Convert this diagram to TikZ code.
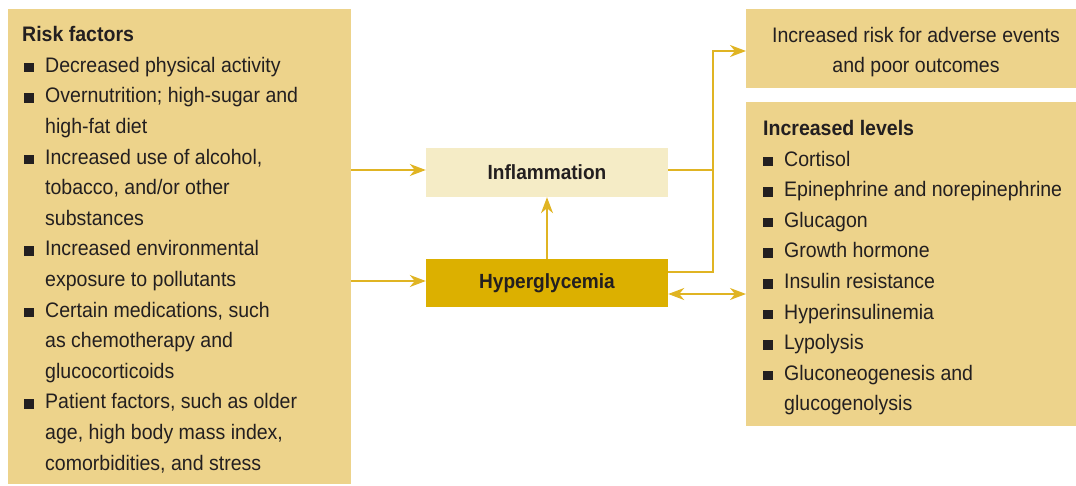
\documentclass[tikz,border=0pt]{standalone}
\usepackage{fontspec}
\setmainfont{Liberation Sans}[FakeStretch=0.93]
\usetikzlibrary{arrows.meta}
\definecolor{boxfill}{HTML}{EDD38B}
\definecolor{linegold}{HTML}{E0B423}
\definecolor{hyperfill}{HTML}{DCB000}
\definecolor{inflfill}{HTML}{F5ECC6}
\definecolor{ink}{HTML}{231F20}
\newcommand{\blt}{\makebox[21pt][l]{\rule{9.5pt}{9.5pt}}}
\tikzset{
  panel/.style={fill=boxfill, draw=none},
  txt/.style={inner sep=0pt, anchor=base west, text=ink, font=\fontsize{21}{25}\selectfont},
  ctxt/.style={inner sep=0pt, anchor=base, text=ink, font=\fontsize{21}{25}\selectfont},
  lbl/.style={inner sep=0pt, text=ink, font=\fontsize{20.5}{24}\selectfont\bfseries},
  conn/.style={draw=linegold, line width=1.5pt},
  arr/.style={conn, -{Stealth[length=16pt,width=12pt,inset=5pt]}},
  darr/.style={conn, {Stealth[length=16pt,width=12pt,inset=5pt]}-{Stealth[length=16pt,width=12pt,inset=5pt]}}
}
\begin{document}
\begin{tikzpicture}[x=1pt,y=-1pt]
\useasboundingbox (0,0) rectangle (1076,485);
% panels
\path[panel] (8,9) rectangle (351,484);
\path[panel] (746,9) rectangle (1076,88);
\path[panel] (746,102) rectangle (1076,426);
\node[fill=inflfill, minimum width=242pt, minimum height=49pt, inner sep=0pt] (infl) at (547,172.5) {};
\node[fill=hyperfill, minimum width=242pt, minimum height=48pt, inner sep=0pt] (hyper) at (547,283) {};
\node[lbl] (inflt) at (547,172.5) {Inflammation};
\node[lbl] (hypert) at (547,283) {Hyperglycemia};
% left text
\node[txt] (l1) at (22,41.7) {\textbf{Risk factors}};
\node[txt] (l2) at (24,72.3) {\blt Decreased physical activity};
\node[txt] (l3) at (24,102.9) {\blt Overnutrition; high-sugar and};
\node[txt] (l4) at (45,133.5) {high-fat diet};
\node[txt] (l5) at (24,164.1) {\blt Increased use of alcohol,};
\node[txt] (l6) at (45,194.7) {tobacco, and/or other};
\node[txt] (l7) at (45,225.3) {substances};
\node[txt] (l8) at (24,255.9) {\blt Increased environmental};
\node[txt] (l9) at (45,286.5) {exposure to pollutants};
\node[txt] (l10) at (24,317.1) {\blt Certain medications, such};
\node[txt] (l11) at (45,347.7) {as chemotherapy and};
\node[txt] (l12) at (45,378.3) {glucocorticoids};
\node[txt] (l13) at (24,408.9) {\blt Patient factors, such as older};
\node[txt] (l14) at (45,439.5) {age, high body mass index,};
\node[txt] (l15) at (45,470.1) {comorbidities, and stress};
% top right text
\node[ctxt] (t1) at (916,42) {Increased risk for adverse events};
\node[ctxt] (t2) at (916,72.5) {and poor outcomes};
% right text
\node[txt] (r1) at (763,135.5) {\textbf{Increased levels}};
\node[txt] (r2) at (763,166.1) {\blt Cortisol};
\node[txt] (r3) at (763,196.7) {\blt Epinephrine and norepinephrine};
\node[txt] (r4) at (763,227.3) {\blt Glucagon};
\node[txt] (r5) at (763,257.9) {\blt Growth hormone};
\node[txt] (r6) at (763,288.5) {\blt Insulin resistance};
\node[txt] (r7) at (763,319.1) {\blt Hyperinsulinemia};
\node[txt] (r8) at (763,349.7) {\blt Lypolysis};
\node[txt] (r9) at (763,380.3) {\blt Gluconeogenesis and};
\node[txt] (r10) at (784,410.9) {glucogenolysis};
% connector anchors
\coordinate (lA) at (351,170);
\coordinate (lB) at (351,281);
\coordinate (jn) at (713,51);
\coordinate (outT) at (746,51);
\coordinate (outR) at (746,294);
% connectors
\draw[arr] (lA) -- (infl.west |- lA);
\draw[arr] (lB) -- (hyper.west |- lB);
\draw[arr] (hyper.north) -- (infl.south);
\draw[conn] (infl.east |- 0,170) -| (jn);
\draw[arr] (hyper.east |- 0,272) -| (jn) -- (outT);
\draw[darr] (hyper.east |- 0,294) -- (outR);
\end{tikzpicture}
\end{document}
